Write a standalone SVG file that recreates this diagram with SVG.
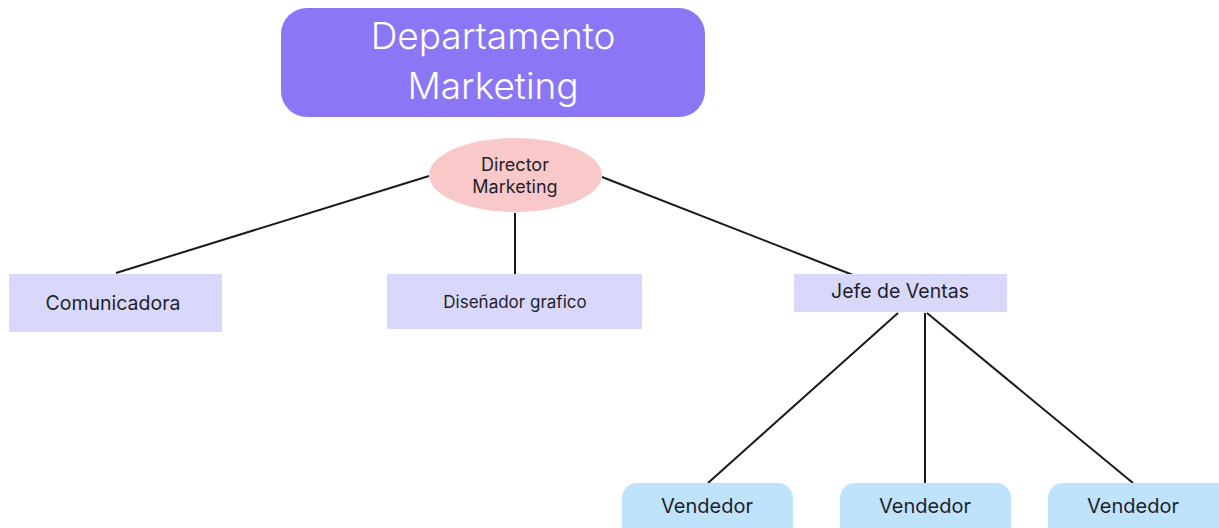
<svg xmlns="http://www.w3.org/2000/svg" width="1219" height="528" viewBox="0 0 1219 528">
<style>
text{font-family:"Inter","DejaVu Sans",sans-serif;fill:#1f1f2b;text-anchor:middle}
.title{fill:#ffffff;font-size:37px;font-weight:300}
.box{fill:#d8d8fb}
.vend{fill:#bfe3fb}
.conn line{stroke:#1a1a1a;stroke-width:2}
</style>
<rect width="1219" height="528" fill="#ffffff"/>
<g class="conn" id="connectors">
<line x1="429" y1="176" x2="116" y2="273"/>
<line x1="515" y1="213" x2="515" y2="274"/>
<line x1="602" y1="177" x2="853" y2="275"/>
<line x1="898" y1="313" x2="708" y2="483"/>
<line x1="925" y1="313" x2="925" y2="483"/>
<line x1="927" y1="313" x2="1133" y2="483"/>
</g>
<g id="title">
<rect x="281" y="8" width="424" height="109" rx="26" fill="#8b77f6"/>
<text class="title" x="493" y="49">Departamento</text>
<text class="title" x="493" y="99">Marketing</text>
</g>
<g id="director">
<ellipse cx="515.5" cy="175" rx="86.5" ry="37" fill="#f9c8c9"/>
<text x="515" y="171" font-size="18">Director</text>
<text x="515" y="193" font-size="18">Marketing</text>
</g>
<g id="comunicadora">
<rect class="box" x="9" y="274" width="213" height="58"/>
<text x="113" y="310" font-size="19.5">Comunicadora</text>
</g>
<g id="disenador">
<rect class="box" x="387" y="274" width="255" height="55"/>
<text x="515" y="308" font-size="17">Diseñador grafico</text>
</g>
<g id="jefe">
<rect class="box" x="794" y="274" width="213" height="38"/>
<text x="900" y="298" font-size="19.5">Jefe de Ventas</text>
</g>
<g id="vendedor1">
<rect class="vend" x="622" y="483" width="171" height="70" rx="15"/>
<text x="707" y="513" font-size="20">Vendedor</text>
</g>
<g id="vendedor2">
<rect class="vend" x="840" y="483" width="171" height="70" rx="15"/>
<text x="925" y="513" font-size="20">Vendedor</text>
</g>
<g id="vendedor3">
<rect class="vend" x="1048" y="483" width="185" height="70" rx="15"/>
<text x="1133" y="513" font-size="20">Vendedor</text>
</g>
</svg>
